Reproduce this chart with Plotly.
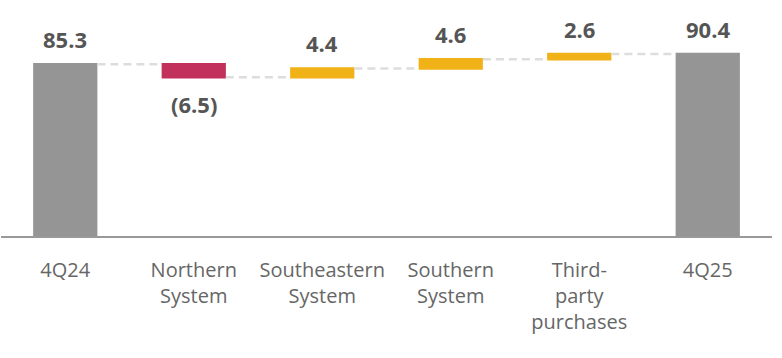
import plotly.graph_objects as go

categories = ["4Q24", "Northern<br>System", "Southeastern<br>System", "Southern<br>System",
              "Third-<br>party<br>purchases", "4Q25"]
values = [85.3, -6.5, 4.4, 4.6, 2.6, 90.4]
measures = ["absolute", "relative", "relative", "relative", "relative", "total"]
labels = ["85.3", "(6.5)", "4.4", "4.6", "2.6", "90.4"]

GRAY = "#959595"
RED = "#C2305C"
GOLD = "#F0B216"

fig = go.Figure()
fig.add_trace(go.Waterfall(
    x=categories, y=values, measure=measures,
    totals=dict(marker=dict(color=GRAY)),
    increasing=dict(marker=dict(color=GOLD)),
    decreasing=dict(marker=dict(color=RED)),
    connector=dict(line=dict(color="#DDDDDD", width=2.5, dash="8px,5px")),
    width=0.5,
    text=None, hoverinfo="skip",
))

# value labels from cumulative data
cum = 0
for cat, v, m, lab in zip(categories, values, measures, labels):
    if m == "absolute":
        start, end = 0, v
        cum = v
    elif m == "total":
        start, end = 0, cum
    else:
        start, end = cum, cum + v
        cum = cum + v
    top = max(start, end)
    bottom = min(start, end)
    if v < 0:
        fig.add_annotation(x=cat, y=bottom, text=lab, showarrow=False,
                           yanchor="top", yshift=-10,
                           font=dict(family="Open Sans", size=22, color="#555555", weight="bold"))
    else:
        fig.add_annotation(x=cat, y=top, text=lab, showarrow=False,
                           yanchor="bottom", yshift=8,
                           font=dict(family="Open Sans", size=22, color="#555555", weight="bold"))

fig.update_layout(
    width=782, height=358,
    margin=dict(l=1, r=10, t=10, b=122),
    plot_bgcolor="white", paper_bgcolor="white",
    showlegend=False,
    font=dict(family="Open Sans", size=20, color="#666666"),
)
fig.update_xaxes(showline=True, linecolor="#999999", linewidth=2,
                 ticks="outside", ticklen=15, tickcolor="rgba(0,0,0,0)",
                 tickfont=dict(size=20, color="#666666"), showgrid=False)
fig.update_yaxes(range=[0, 112.2], visible=False, showgrid=False)

fig.write_html("out.html", config={"displayModeBar": False},
               post_script="document.body.style.margin='0';")
